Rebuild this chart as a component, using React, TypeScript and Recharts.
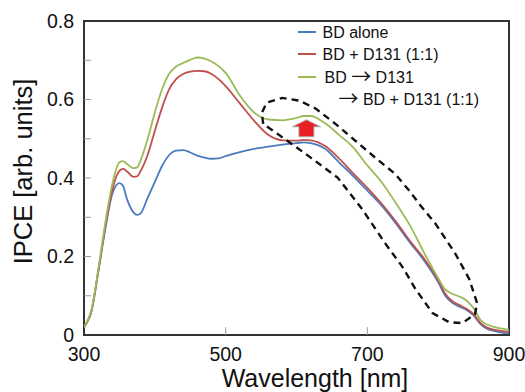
import { ComposedChart, Line, Scatter, XAxis, YAxis, ReferenceLine, ReferenceArea, ReferenceDot } from 'recharts';

const wavelengths = [
  300, 305, 310, 320, 330, 340, 350, 355, 360, 370, 375, 380, 390, 400, 410, 420, 430, 440, 450, 460,
  470, 480, 490, 500, 520, 540, 560, 580, 600, 610, 620, 640, 660, 680, 700, 720, 740, 760, 780, 800,
  810, 820, 830, 840, 850, 860, 870, 880, 890, 900,
];

const bdAlone = [
  0.02, 0.035, 0.056, 0.16, 0.27, 0.36, 0.387, 0.38, 0.35, 0.312, 0.306, 0.31, 0.35, 0.39, 0.43, 0.458, 0.47, 0.471, 0.465, 0.457,
  0.452, 0.449, 0.45, 0.456, 0.466, 0.474, 0.48, 0.485, 0.489, 0.491, 0.489, 0.475, 0.44, 0.405, 0.368, 0.33, 0.285, 0.236, 0.19, 0.135,
  0.1, 0.082, 0.072, 0.064, 0.05, 0.027, 0.015, 0.01, 0.006, 0.004,
];

const bdMix = [
  0.02, 0.035, 0.058, 0.16, 0.275, 0.37, 0.418, 0.423, 0.418, 0.403, 0.404, 0.418, 0.46, 0.52, 0.578, 0.625, 0.652, 0.665, 0.671, 0.673,
  0.672, 0.665, 0.652, 0.634, 0.59, 0.546, 0.51, 0.496, 0.495, 0.497, 0.496, 0.482, 0.45, 0.412, 0.375, 0.335, 0.29, 0.24, 0.195, 0.14,
  0.105, 0.086, 0.076, 0.067, 0.053, 0.03, 0.018, 0.013, 0.01, 0.008,
];

const bdSeq = [
  0.02, 0.037, 0.06, 0.165, 0.285, 0.385, 0.44, 0.443, 0.437, 0.425, 0.427, 0.445, 0.5, 0.567, 0.625, 0.665, 0.684, 0.693, 0.701, 0.707,
  0.704, 0.697, 0.685, 0.668, 0.61, 0.567, 0.549, 0.547, 0.553, 0.558, 0.558, 0.54, 0.51, 0.478, 0.432, 0.39, 0.337, 0.28, 0.21, 0.145,
  0.116, 0.105, 0.098, 0.088, 0.068, 0.038, 0.026, 0.02, 0.016, 0.013,
];

// dashed loop drawn around the long-wavelength region (nm, IPCE)
const loopNm = [553, 551, 558, 580, 604, 627, 655, 683, 711, 739, 759, 775, 796, 824, 844, 855, 852, 834, 815, 792, 768, 749, 725, 693, 658, 620, 587, 553];
const loopVal = [0.538, 0.566, 0.592, 0.604, 0.597, 0.577, 0.538, 0.495, 0.452, 0.411, 0.368, 0.33, 0.284, 0.208, 0.142, 0.081, 0.053, 0.03, 0.033, 0.056, 0.117, 0.175, 0.234, 0.32, 0.401, 0.452, 0.495, 0.538];

const xTicks = [300, 500, 700, 900];
const yTicks = [0, 0.2, 0.4, 0.6, 0.8];
const yMinor = [0.1, 0.2, 0.3, 0.4, 0.5, 0.6, 0.7];
const xInner = [500, 700];

const series = [
  { key: 'alone', label: ['BD alone'], color: '#4a7bbf' },
  { key: 'mix', label: ['BD + D131 (1:1)'], color: '#c0504d' },
  { key: 'seq', label: ['BD ', ' D131'], color: '#9bbb59' },
];

const data = wavelengths.map((nm, i) => ({ nm, alone: bdAlone[i], mix: bdMix[i], seq: bdSeq[i] }));
const loop = loopNm.map((nm, i) => ({ nm, v: loopVal[i] }));

const font = 'Arial, "Liberation Sans", Helvetica, sans-serif';
const ARROW = '\u2192';

function UpArrow(props: any) {
  const { cx, cy } = props;
  const pts = [
    [cx, cy - 8], [cx + 14, cy - 1], [cx + 7.5, cy - 1], [cx + 7.5, cy + 9],
    [cx - 7.5, cy + 9], [cx - 7.5, cy - 1], [cx - 14, cy - 1],
  ].map((p) => p.join(',')).join(' ');
  return <polygon points={pts} fill="#ea1f26" stroke="#a9a9a9" strokeWidth={1} />;
}

function Arrow() {
  return (
    <tspan fontFamily='"Noto Sans CJK JP", sans-serif' fontSize={20} dy={1}>
      {ARROW}
    </tspan>
  );
}

export default function App() {
  return (
    <div style={{ position: 'absolute', left: 0, top: 0, width: 525, height: 392, background: '#fff', fontFamily: font }}>
      <ComposedChart width={525} height={392} data={data} margin={{ top: 21, right: 16, bottom: 0, left: 0 }}>
        <XAxis
          dataKey="nm"
          type="number"
          domain={[300, 900]}
          ticks={xTicks}
          height={57}
          axisLine={false}
          tickLine={false}
          tickSize={8}
          tickMargin={4}
          tick={{ fontSize: 19.5, fill: '#111', fontFamily: font }}
          allowDataOverflow
        />
        <YAxis
          type="number"
          domain={[0, 0.8]}
          ticks={yTicks}
          width={84}
          axisLine={false}
          tickLine={false}
          tickSize={7}
          tickMargin={3}
          tickFormatter={(v: number) => (v === 0 ? '0' : v.toFixed(1))}
          tick={{ fontSize: 19.5, fill: '#111', fontFamily: font }}
          allowDataOverflow
        />
        {yMinor.map((y) => (
          <ReferenceLine key={'y' + y} segment={[{ x: 300, y }, { x: 310, y }]} stroke="#9a9a9a" strokeWidth={1} />
        ))}
        {xInner.map((x) => (
          <ReferenceLine key={'x' + x} segment={[{ x, y: 0 }, { x, y: 0.02 }]} stroke="#9a9a9a" strokeWidth={1} />
        ))}
        {series.map((s) => (
          <Line
            key={s.key}
            dataKey={s.key}
            type="monotone"
            stroke={s.color}
            strokeWidth={1.8}
            dot={false}
            isAnimationActive={false}
          />
        ))}
        <Scatter
          data={loop}
          dataKey="v"
          line={{ stroke: '#111', strokeWidth: 2.4, strokeDasharray: '7 5', fill: 'none' }}
          lineType="joint"
          shape={() => <g />}
          isAnimationActive={false}
        />
        <ReferenceDot x={614} y={0.528} shape={UpArrow} />
        <ReferenceArea x1={300} x2={900} y1={0} y2={0.8} fill="none" fillOpacity={0} stroke="#333" strokeWidth={2} />
      </ComposedChart>
      <svg width={525} height={392} style={{ position: 'absolute', left: 0, top: 0, pointerEvents: 'none' }}>
        <text x={315} y={387} textAnchor="middle" fontSize={25} fill="#111" fontFamily={font}>
          Wavelength [nm]
        </text>
        <text transform="translate(31.5,171.5) rotate(-90)" textAnchor="middle" fontSize={25.5} fill="#111" fontFamily={font}>
          IPCE [arb. units]
        </text>
        {series.map((s, i) => {
          const cy = [32, 54, 77][i];
          return (
            <g key={s.key}>
              <line x1={298} x2={316} y1={cy} y2={cy} stroke={s.color} strokeWidth={2} />
              <text x={i === 2 ? 324.5 : 322.5} y={cy + 6} fontSize={16} fill="#111" fontFamily={font}>
                {s.label.length > 1 ? (
                  <>
                    {s.label[0]}
                    <Arrow />
                    <tspan dy={-1}>{s.label[1]}</tspan>
                  </>
                ) : (
                  s.label[0]
                )}
              </text>
            </g>
          );
        })}
        <text x={338.5} y={105} fontSize={16} fill="#111" fontFamily={font}>
          <Arrow />
          <tspan dy={-1}>{' BD + D131 (1:1)'}</tspan>
        </text>
      </svg>
    </div>
  );
}
